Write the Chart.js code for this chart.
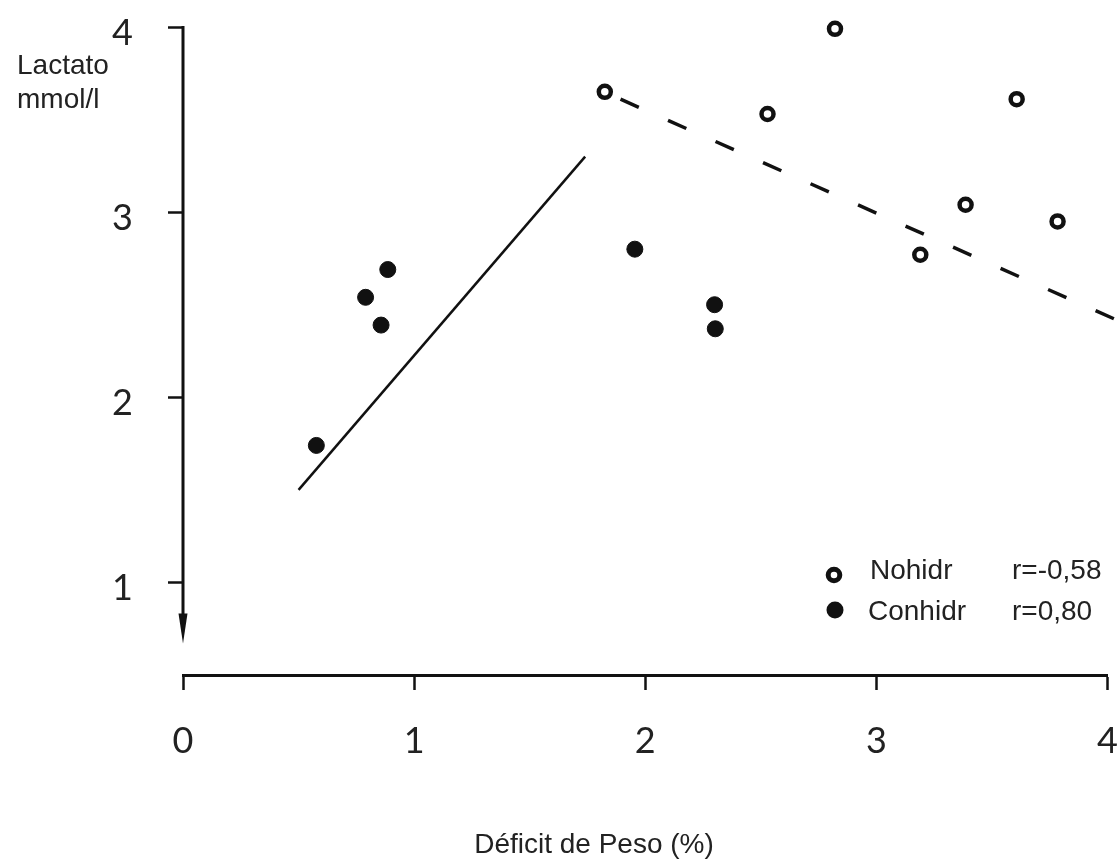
<!DOCTYPE html>
<html>
<head>
<meta charset="utf-8">
<script src="https://cdn.jsdelivr.net/npm/chart.js@4.4.1/dist/chart.umd.min.js"></script>
<style>
  html, body { margin: 0; padding: 0; background: #ffffff; }
  #wrap { width: 1118px; height: 865px; }
</style>
</head>
<body>
<div id="wrap"><canvas id="c" width="1118" height="865"></canvas></div>
<script>
// ---- data ----
const conhidrX = [0.577, 0.790, 0.886, 0.857, 1.955, 2.300, 2.303];
const conhidrY = [1.74, 2.54, 2.69, 2.39, 2.80, 2.50, 2.37];
const nohidrX = [1.825, 2.821, 2.529, 3.607, 3.386, 3.784, 3.190];
const nohidrY = [3.65, 3.99, 3.53, 3.61, 3.04, 2.95, 2.77];
const fitConX = [0.50, 1.74];
const fitConY = [1.50, 3.30];
const fitNoX = [1.893, 4.035];
const fitNoY = [3.61, 2.42];
const xTicks = [0, 1, 2, 3, 4];
const yTicks = [1, 2, 3, 4];
const seriesNames = ['Nohidr', 'Conhidr'];
const rLabels = ['r=-0,58', 'r=0,80'];
const xTitle = 'Déficit de Peso (%)';
const yTitleLines = ['Lactato', 'mmol/l'];

const INK = '#111111';
const toPts = (xs, ys) => xs.map((x, i) => ({ x: x, y: ys[i] }));

const decor = {
  id: 'decor',
  afterDraw(chart) {
    const ctx = chart.ctx;
    const xs = chart.scales.x, ys = chart.scales.y;
    ctx.save();
    // y axis line with arrow at the bottom
    const ax = xs.getPixelForValue(0);
    const yTop = ys.getPixelForValue(4);
    const yBot = ys.getPixelForValue(0.67);
    ctx.strokeStyle = INK;
    ctx.lineWidth = 3;
    ctx.beginPath();
    ctx.moveTo(ax, yTop - 1);
    ctx.lineTo(ax, yBot - 20);
    ctx.stroke();
    ctx.fillStyle = INK;
    ctx.beginPath();
    ctx.moveTo(ax - 4.5, yBot - 30);
    ctx.lineTo(ax + 4.5, yBot - 30);
    ctx.lineTo(ax, yBot);
    ctx.closePath();
    ctx.fill();

    // y title
    ctx.font = '28px "Liberation Sans", Arial, sans-serif';
    ctx.fillStyle = '#222';
    ctx.textBaseline = 'alphabetic';
    ctx.textAlign = 'left';
    ctx.fillText(yTitleLines[0], 17, 74);
    ctx.fillText(yTitleLines[1], 17, 108);

    // x title
    ctx.textAlign = 'center';
    ctx.fillText(xTitle, 594, 853);

    // legend
    ctx.textAlign = 'left';
    ctx.textBaseline = 'middle';
    ctx.lineWidth = 5;
    ctx.strokeStyle = INK;
    ctx.beginPath();
    ctx.arc(834, 575, 5.8, 0, Math.PI * 2);
    ctx.stroke();
    ctx.fillStyle = INK;
    ctx.beginPath();
    ctx.arc(835, 610, 8.5, 0, Math.PI * 2);
    ctx.fill();
    ctx.fillStyle = '#222';
    ctx.fillText(seriesNames[0], 870, 571);
    ctx.fillText(seriesNames[1], 868, 612);
    ctx.fillText(rLabels[0], 1012, 571);
    ctx.fillText(rLabels[1], 1012, 612);
    ctx.restore();
  }
};

new Chart(document.getElementById('c'), {
  type: 'scatter',
  data: {
    datasets: [
      {
        label: seriesNames[1],
        data: toPts(conhidrX, conhidrY),
        pointRadius: 8,
        pointBorderWidth: 1,
        backgroundColor: INK,
        borderColor: INK,
        clip: false
      },
      {
        label: seriesNames[0],
        data: toPts(nohidrX, nohidrY),
        pointRadius: 6,
        pointBorderWidth: 4.5,
        backgroundColor: '#ffffff',
        borderColor: INK,
        clip: false
      },
      {
        label: 'fit Conhidr',
        data: toPts(fitConX, fitConY),
        showLine: true,
        pointRadius: 0,
        borderColor: INK,
        borderWidth: 2.5,
        clip: false
      },
      {
        label: 'fit Nohidr',
        data: toPts(fitNoX, fitNoY),
        showLine: true,
        pointRadius: 0,
        borderColor: INK,
        borderWidth: 3.5,
        borderDash: [20, 32],
        clip: false
      }
    ]
  },
  options: {
    responsive: false,
    animation: false,
    events: [],
    layout: { padding: { left: 0, right: 8, top: 27, bottom: 0 } },
    plugins: { legend: { display: false }, tooltip: { enabled: false }, title: { display: false } },
    scales: {
      x: {
        type: 'linear',
        min: 0,
        max: 4,
        afterFit(s) { s.height = 190; s.paddingLeft = 0; s.paddingRight = 0; },
        afterBuildTicks(s) { s.ticks = xTicks.map(v => ({ value: v })); },
        border: { display: true, color: INK, width: 3 },
        grid: { drawOnChartArea: false, drawTicks: true, tickLength: 15, tickWidth: 2.5, tickColor: INK },
        ticks: {
          color: '#222',
          padding: 30,
          font: { family: 'Lato, "DejaVu Sans", sans-serif', size: 36 },
          callback: v => String(v),
          maxRotation: 0
        }
      },
      y: {
        type: 'linear',
        min: 0.5,
        max: 4,
        afterFit(s) { s.width = 183; s.paddingTop = 0; s.paddingBottom = 0; },
        afterBuildTicks(s) { s.ticks = yTicks.map(v => ({ value: v })); },
        border: { display: false },
        grid: { drawOnChartArea: false, drawTicks: true, tickLength: 15, tickWidth: 2.5, tickColor: INK },
        ticks: {
          color: '#222',
          padding: 35,
          labelOffset: 6,
          font: { family: 'Lato, "DejaVu Sans", sans-serif', size: 36 },
          callback: v => String(v)
        }
      }
    }
  },
  plugins: [decor]
});
</script>
</body>
</html>
